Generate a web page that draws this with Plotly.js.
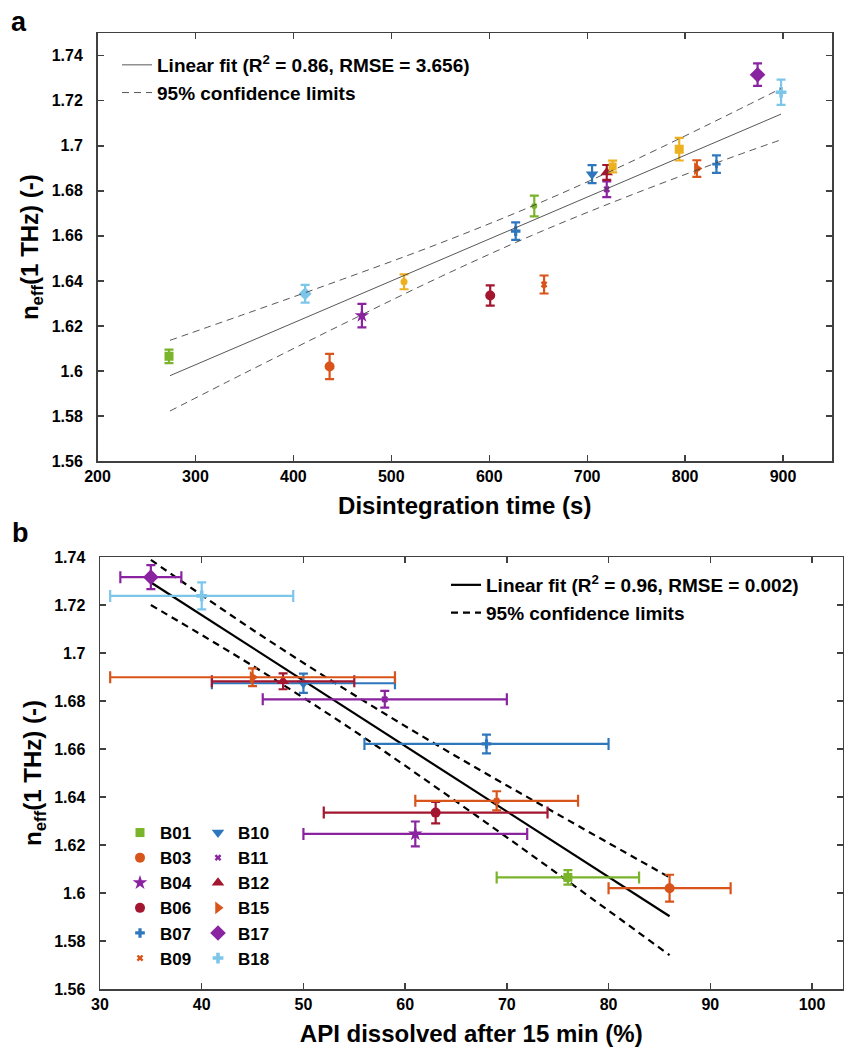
<!DOCTYPE html>
<html><head><meta charset="utf-8">
<script src="https://cdn.plot.ly/plotly-3.0.1.min.js"></script>
<style>html,body{margin:0;padding:0;background:#fff}#chart{width:845px;height:1050px}</style>
</head><body><div id="chart"></div><script>
// ---------- data: panel a ----------
const batchesA = ['B01','B02','B03','B04','B05','B06','B07','B08','B09','B10','B11','B12','B13','B14','B15','B16','B17','B18'];
const disintegrationTime = [273,412,437,470,513,601,627,646,656,705,720,720,726,794,812,832,874,898];
const neffA = [1.6065,1.6343,1.602,1.6246,1.6396,1.6335,1.6621,1.6733,1.6384,1.6874,1.6807,1.6882,1.6908,1.6985,1.6899,1.6919,1.7316,1.7238];
const neffErr = [0.003,0.0039,0.0056,0.0052,0.0033,0.0045,0.0039,0.0046,0.004,0.004,0.0035,0.0033,0.0026,0.005,0.0037,0.0039,0.005,0.0056];
const fitA_x = [274, 898];
const fitA_y = [1.5979, 1.7141];
const ciA_x = [274, 350, 450, 550, 650, 750, 850, 898];
const ciA_upper = [1.6136, 1.6252, 1.6407, 1.6568, 1.6744, 1.6940, 1.7151, 1.7255];
const ciA_lower = [1.5822, 1.5990, 1.6207, 1.6418, 1.6614, 1.6790, 1.6953, 1.7027];
const xTicksA = [200,300,400,500,600,700,800,900];
const yTicks = [1.56,1.58,1.6,1.62,1.64,1.66,1.68,1.7,1.72,1.74];
const yTickText = ['1.56','1.58','1.6','1.62','1.64','1.66','1.68','1.7','1.72','1.74'];
const legendA = ['Linear fit (R<sup>2</sup> = 0.86, RMSE = 3.656)', '95% confidence limits'];

// ---------- data: panel b ----------
const batchesB = ['B01','B03','B04','B06','B07','B09','B10','B11','B12','B15','B17','B18'];
const apiDissolved = [76,86,61,63,68,69,50,58,48,45,35,40];
const apiErr = [7,6,11,11,12,8,9,12,7,14,3,9];
const fitB_x = [34.9, 86];
const fitB_y = [1.7297, 1.5903];
const ciB_x = [35, 45, 55, 65, 75, 86];
const ciB_upper = [1.7388, 1.7097, 1.6825, 1.6570, 1.6328, 1.6065];
const ciB_lower = [1.7200, 1.6947, 1.6675, 1.6382, 1.6080, 1.5741];
const xTicksB = [30,40,50,60,70,80,90,100];
const legendB = ['Linear fit (R<sup>2</sup> = 0.96, RMSE = 0.002)', '95% confidence limits'];

// ---------- styles ----------
const C = {blue:'#2f77bd', orange:'#d9541a', yellow:'#edb120', purple:'#8a23a0', green:'#79b42a', lblue:'#7cc6ea', dred:'#a2172f'};
const styleByBatch = {
  B01:{c:C.green, s:'square', z:9},
  B02:{c:C.lblue, s:'diamond', z:10},
  B03:{c:C.orange, s:'circle', z:10},
  B04:{c:C.purple, s:'star', z:11},
  B05:{c:C.yellow, s:'circle', z:7},
  B06:{c:C.dred, s:'circle', z:10},
  B07:{c:C.blue, s:'cross', z:8},
  B08:{c:C.green, s:'circle', z:6},
  B09:{c:C.orange, s:'x', z:6},
  B10:{c:C.blue, s:'triangle-down', z:11},
  B11:{c:C.purple, s:'x', z:6},
  B12:{c:C.dred, s:'triangle-up', z:11},
  B13:{c:C.yellow, s:'square', z:8},
  B14:{c:C.yellow, s:'square', z:9},
  B15:{c:C.orange, s:'triangle-right', z:11},
  B16:{c:C.blue, s:'cross', z:7},
  B17:{c:C.purple, s:'diamond', z:12},
  B18:{c:C.lblue, s:'cross', z:9}
};
const FONT = 'Liberation Sans, Arial, Helvetica, sans-serif';
const W = 845, H = 1050;

const traces = [];
// panel a points
batchesA.forEach((b, i) => {
  const st = styleByBatch[b];
  traces.push({
    type:'scatter', mode:'markers', name:b, xaxis:'x', yaxis:'y', showlegend:false,
    x:[disintegrationTime[i]], y:[neffA[i]],
    marker:{symbol:st.s, color:st.c, size:st.z, line:{width:0}},
    error_y:{type:'data', array:[neffErr[i]], color:st.c, thickness:2.2, width:4.5}
  });
});
// panel a fit lines
traces.push({type:'scatter', mode:'lines', x:fitA_x, y:fitA_y, xaxis:'x', yaxis:'y',
  name:legendA[0], legend:'legend', line:{color:'#444', width:0.9}});
traces.push({type:'scatter', mode:'lines', x:ciA_x, y:ciA_upper, xaxis:'x', yaxis:'y',
  name:legendA[1], legend:'legend', legendgroup:'ciA', line:{color:'#444', width:0.9, dash:'7px,5px', shape:'spline'}});
traces.push({type:'scatter', mode:'lines', x:ciA_x, y:ciA_lower, xaxis:'x', yaxis:'y', showlegend:false,
  name:legendA[1], legendgroup:'ciA', line:{color:'#444', width:0.9, dash:'7px,5px', shape:'spline'}});

// panel b fit lines
traces.push({type:'scatter', mode:'lines', x:fitB_x, y:fitB_y, xaxis:'x2', yaxis:'y2',
  name:legendB[0], legend:'legend2', line:{color:'#000', width:2.2}});
traces.push({type:'scatter', mode:'lines', x:ciB_x, y:ciB_upper, xaxis:'x2', yaxis:'y2',
  name:legendB[1], legend:'legend2', legendgroup:'ciB', line:{color:'#000', width:2.2, dash:'7px,5px', shape:'spline'}});
traces.push({type:'scatter', mode:'lines', x:ciB_x, y:ciB_lower, xaxis:'x2', yaxis:'y2', showlegend:false,
  name:legendB[1], legendgroup:'ciB', line:{color:'#000', width:2.2, dash:'7px,5px', shape:'spline'}});

// panel b points
batchesB.forEach((b, i) => {
  const st = styleByBatch[b];
  const k = batchesA.indexOf(b);
  traces.push({
    type:'scatter', mode:'markers', name:b, xaxis:'x2', yaxis:'y2',
    legend: i < 6 ? 'legend3' : 'legend4', legendgroup:b,
    x:[apiDissolved[i]], y:[neffA[k]],
    marker:{symbol:st.s, color:st.c, size:st.z, line:{width:0}},
    error_x:{type:'data', array:[apiErr[i]], color:st.c, thickness:2.2, width:6},
    error_y:{type:'data', array:[neffErr[k]], color:st.c, thickness:2.2, width:4.5}
  });
});

const axisCommon = {
  showgrid:false, zeroline:false, showline:true, linecolor:'#404040', linewidth:1.5,
  mirror:'ticks', ticks:'inside', ticklen:6, tickwidth:1.3, tickcolor:'#404040',
  tickfont:{family:FONT, size:16, color:'#000', weight:'bold'}
};
const titleFont = {family:FONT, size:24, color:'#000', weight:'bold'};
const legFont = {family:FONT, size:19, color:'#000', weight:'bold'};
const legFontB = {family:FONT, size:17, color:'#000', weight:'bold'};

const layout = {
  width:W, height:H, margin:{l:0, r:0, t:0, b:0},
  paper_bgcolor:'#fff', plot_bgcolor:'#fff', showlegend:true,
  font:{family:FONT, color:'#000'},
  xaxis:Object.assign({}, axisCommon, {domain:[97.5/W, 832/W], range:[200,950], anchor:'y',
    tickvals:xTicksA, ticktext:xTicksA.map(String),
    title:{text:'Disintegration time (s)', font:titleFont, standoff:13}}),
  yaxis:Object.assign({}, axisCommon, {domain:[1-461/H, 1-33.3/H], range:[1.56,1.75], anchor:'x',
    tickvals:yTicks, ticktext:yTickText, ticklabelstandoff:10,
    title:{text:'n<sub>eff</sub>(1 THz) (-)', font:titleFont, standoff:6}}),
  xaxis2:Object.assign({}, axisCommon, {domain:[100/W, 842.5/W], range:[30,103], anchor:'y2',
    tickvals:xTicksB, ticktext:xTicksB.map(String),
    title:{text:'API dissolved after 15 min (%)', font:titleFont, standoff:13}}),
  yaxis2:Object.assign({}, axisCommon, {domain:[1-989/H, 1-557/H], range:[1.56,1.74], anchor:'x2',
    tickvals:yTicks, ticktext:yTickText, ticklabelstandoff:10,
    title:{text:'n<sub>eff</sub>(1 THz) (-)', font:titleFont, standoff:6}}),
  legend:{x:117/W, y:1-46/H, xanchor:'left', yanchor:'top', bgcolor:'rgba(0,0,0,0)', font:legFont, itemwidth:30, tracegroupgap:0},
  legend2:{x:446/W, y:1-566/H, xanchor:'left', yanchor:'top', bgcolor:'rgba(0,0,0,0)', font:legFont, itemwidth:30, tracegroupgap:0},
  legend3:{x:120/W, y:1-815/H, xanchor:'left', yanchor:'top', bgcolor:'rgba(0,0,0,0)', font:legFontB, itemwidth:30, tracegroupgap:0},
  legend4:{x:198/W, y:1-815/H, xanchor:'left', yanchor:'top', bgcolor:'rgba(0,0,0,0)', font:legFontB, itemwidth:30, tracegroupgap:0},
  annotations:[
    {text:'a', x:19/W, y:1-22/H, xref:'paper', yref:'paper', showarrow:false, xanchor:'center', yanchor:'middle', font:{family:FONT, size:27, weight:'bold', color:'#000'}},
    {text:'b', x:20/W, y:1-533/H, xref:'paper', yref:'paper', showarrow:false, xanchor:'center', yanchor:'middle', font:{family:FONT, size:27, weight:'bold', color:'#000'}}
  ]
};

Plotly.newPlot('chart', traces, layout, {displayModeBar:false, staticPlot:true});
</script></body></html>
